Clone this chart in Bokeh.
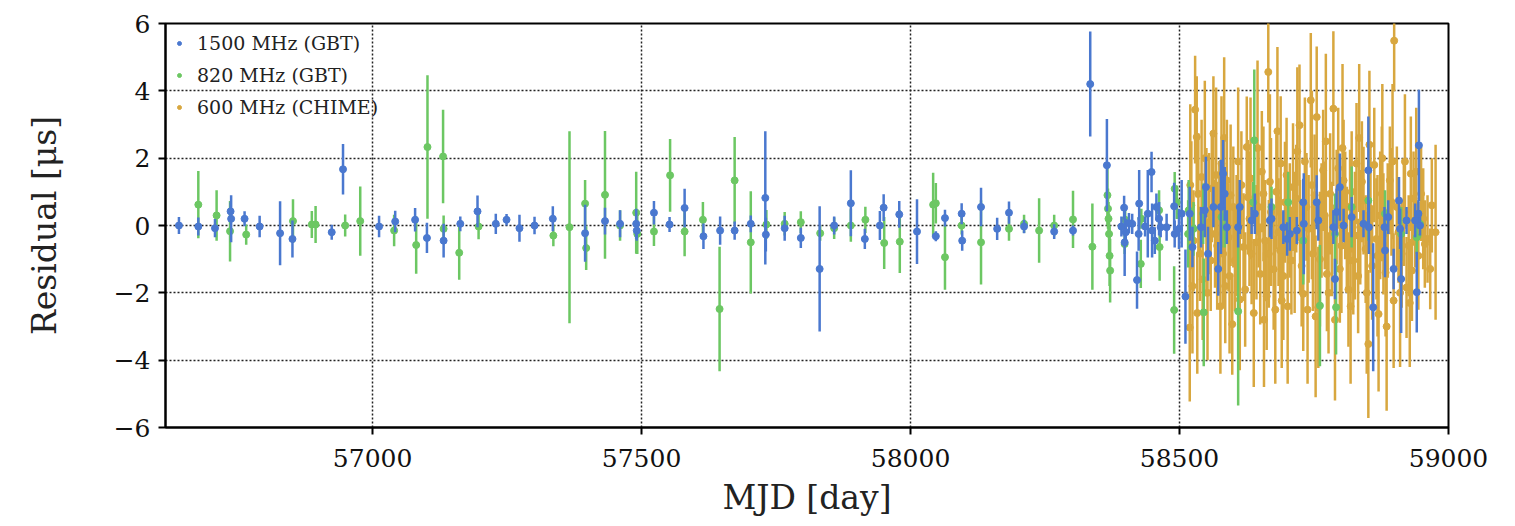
from bokeh.plotting import figure
from bokeh.models import (Range1d, FixedTicker, Legend, LegendItem, ColumnDataSource)
from bokeh.embed import file_html
from bokeh.resources import INLINE

# ---- data: (MJD, residual [us], uncertainty [us]) ----
gbt1500_mjd = [56640, 56676, 56707, 56736, 56737, 56762, 56790, 56828, 56851, 56924, 56945,
               57012, 57042, 57079, 57101, 57132, 57163, 57195, 57229, 57249, 57273, 57301, 57335,
               57395, 57432, 57460, 57490, 57491, 57523, 57552, 57580, 57615, 57646, 57673, 57703,
               57730, 57731, 57766, 57796, 57831, 57858, 57889, 57915, 57943, 57950, 57979, 58012,
               58047, 58064, 58095, 58096, 58131, 58161, 58183, 58211, 58267, 58302, 58334, 58365,
               58392, 58397, 58398, 58400, 58406, 58412, 58421, 58424, 58425, 58436, 58441, 58448,
               58449, 58454, 58457, 58462, 58465, 58476, 58490, 58491, 58499, 58504, 58511, 58519,
               58524, 58540, 58547, 58549, 58553, 58563, 58572, 58577, 58581, 58584, 58588, 58609,
               58612, 58634, 58640, 58668, 58671, 58693, 58700, 58705, 58718, 58730, 58731, 58755,
               58758, 58786, 58789, 58792, 58798, 58805, 58820, 58842, 58851, 58852, 58860, 58881,
               58882, 58888, 58898, 58908, 58910, 58912, 58922, 58938, 58941, 58944, 58945, 58947]
gbt1500_res = [0.0, -0.03, -0.08, 0.42, 0.20, 0.20, -0.03, -0.23, -0.40, -0.20, 1.67,
               -0.03, 0.12, 0.17, -0.37, -0.45, 0.05, 0.42, 0.05, 0.17, -0.08, 0.00, 0.20,
               -0.23, 0.13, 0.05, 0.05, -0.15, 0.38, 0.03, 0.52, -0.32, -0.15, -0.15, 0.05,
               0.82, -0.27, -0.08, -0.37, -1.29, 0.00, 0.66, -0.40, 0.00, 0.53, 0.33, -0.18,
               -0.32, 0.22, 0.35, -0.45, 0.55, -0.10, 0.38, -0.03, -0.18, -0.15, 4.20, 1.79,
               -0.03, 0.53, -0.50, -0.20, 0.07, 0.05, -1.62, -0.25, 0.65, -0.03, 0.35, 1.59,
               -0.15, -0.45, 0.55, 0.20, -0.05, -0.05, 0.57, -0.25, -0.10, 0.35, -2.11, 0.35,
               -0.64, -0.05, 0.45, 1.14, -0.84, 0.55, -1.29, 0.55, 1.54, 0.94, -0.05, -0.05,
               0.55, 0.15, 0.35, 0.15, 0.20, -0.05, -0.40, -0.25, -0.15, 0.69, 0.05, 0.69,
               0.15, -0.05, -1.59, 0.40, 1.14, 0.00, 0.25, 0.05, 1.64, -0.05, -2.43, -0.05,
               -0.74, 0.25, -1.29, 0.74, -0.10, -1.59, 0.15, 0.15, -1.98, 0.35, 2.38, 0.00]
gbt1500_err = [0.25, 0.27, 0.27, 0.27, 0.70, 0.22, 0.32, 0.95, 0.55, 0.22, 0.75,
               0.32, 0.32, 0.35, 0.45, 0.50, 0.22, 0.47, 0.30, 0.17, 0.40, 0.26, 0.37,
               0.85, 0.40, 0.40, 0.45, 0.30, 0.35, 0.22, 0.57, 0.38, 0.42, 0.27, 0.25,
               1.98, 0.50, 0.37, 0.30, 1.86, 0.27, 0.98, 0.30, 0.43, 0.40, 0.40, 0.96,
               0.15, 0.25, 0.31, 0.30, 0.57, 0.33, 0.33, 0.20, 0.22, 0.15, 1.56, 1.37,
               0.30, 0.35, 1.00, 0.40, 0.30, 0.30, 0.85, 0.50, 1.00, 0.30, 1.30, 0.60,
               0.80, 0.40, 0.40, 0.50, 0.30, 0.40, 0.70, 0.40, 0.60, 1.00, 1.40, 0.80,
               0.60, 0.60, 0.80, 0.90, 0.80, 0.60, 0.80, 1.40, 1.00, 0.80, 0.50, 0.60,
               0.80, 0.40, 0.60, 0.50, 0.60, 0.50, 0.50, 0.50, 0.40, 0.70, 1.50, 0.80,
               0.60, 0.50, 0.60, 0.70, 1.00, 0.50, 0.60, 0.40, 1.60, 0.80, 1.90, 0.60,
               0.80, 0.50, 0.60, 0.70, 0.60, 1.60, 0.40, 0.50, 1.20, 0.40, 1.65, 0.30]

gbt820_mjd = [56676, 56710, 56735, 56765, 56852, 56887, 56894, 56949, 56977, 57040, 57081,
              57102, 57131, 57132, 57161, 57197, 57336, 57366, 57395, 57397, 57432, 57460,
              57490, 57492, 57523, 57553, 57580, 57614, 57645, 57673, 57703, 57732, 57766,
              57796, 57832, 57858, 57889, 57916, 57951, 57980, 58042, 58047, 58064, 58095,
              58131, 58183, 58211, 58239, 58267, 58302, 58338, 58366, 58367, 58368, 58369,
              58370, 58371, 58398, 58399, 58428, 58429, 58462, 58463, 58490, 58491, 58495,
              58516, 58517, 58526, 58544, 58545, 58578, 58584, 58609, 58637, 58639, 58671,
              58702, 58730, 58761, 58789, 58791, 58820, 58851, 58882, 58912, 58941, 58947]
gbt820_res = [0.62, 0.30, -0.17, -0.27, 0.13, 0.03, 0.03, 0.00, 0.13, -0.15, -0.58,
              2.33, 2.05, -0.10, -0.81, -0.03, -0.30, -0.05, 0.65, -0.67, 0.91, 0.00,
              0.38, -0.25, -0.18, 1.49, -0.18, 0.17, -2.48, 1.34, -0.50, 0.03, 0.05,
              0.10, -0.23, -0.08, 0.00, 0.17, -0.52, -0.48, 0.62, 0.66, -0.94, 0.00,
              -0.50, -0.10, 0.05, -0.15, 0.00, 0.18, -0.63, 0.90, 0.50, 0.20, -0.25,
              -0.90, -1.34, -0.55, 0.17, -1.14, 0.20, 0.45, -0.64, -2.51, 1.09, 0.69,
              -0.25, 0.45, -0.10, 0.35, -2.58, 0.25, -0.05, -2.55, 0.69, 2.53, 0.55,
              0.69, -0.45, -2.38, -0.25, -2.43, 0.55, 0.74, 0.35, -0.25, -0.35, 0.05]
gbt820_err = [1.00, 0.75, 0.90, 0.30, 0.65, 0.40, 0.55, 0.33, 1.03, 0.47, 0.85,
              2.13, 1.39, 0.40, 0.80, 0.38, 0.32, 2.85, 0.70, 0.65, 1.90, 0.45,
              1.22, 0.60, 0.43, 1.08, 0.73, 0.53, 1.85, 1.29, 1.52, 0.43, 0.35,
              0.32, 0.22, 0.32, 0.48, 0.39, 0.77, 0.93, 0.95, 0.60, 0.97, 0.27,
              1.25, 0.35, 0.27, 0.96, 0.32, 0.85, 1.28, 0.90, 0.60, 0.50, 0.60,
              0.90, 0.95, 0.30, 0.30, 0.72, 0.30, 0.60, 1.00, 1.30, 0.50, 0.50,
              1.00, 0.90, 0.80, 0.90, 1.60, 0.90, 0.60, 2.80, 0.60, 2.10, 0.60,
              0.90, 1.30, 1.80, 1.20, 1.40, 1.20, 1.20, 0.70, 0.80, 0.50, 0.40]

chime_mjd = [58519, 58522, 58526, 58529, 58532, 58535, 58538, 58541, 58543, 58550, 58555,
             58558, 58560, 58563, 58566, 58570, 58574, 58578, 58581, 58585, 58588, 58591,
             58595, 58598, 58600, 58603, 58606, 58615, 58619, 58622, 58625, 58627, 58630,
             58634, 58643, 58647, 58650, 58653, 58656, 58659, 58662, 58665, 58666, 58670,
             58675, 58680, 58684, 58687, 58688, 58690, 58693, 58696, 58699, 58705, 58708,
             58711, 58714, 58717, 58723, 58724, 58727, 58730, 58733, 58736, 58740, 58744,
             58748, 58751, 58755, 58758, 58761, 58764, 58767, 58770, 58774, 58777, 58780,
             58783, 58786, 58792, 58795, 58798, 58801, 58805, 58808, 58811, 58814, 58817,
             58820, 58823, 58826, 58829, 58832, 58836, 58839, 58842, 58846, 58851, 58855,
             58858, 58862, 58866, 58870, 58873, 58876, 58879, 58883, 58887, 58891, 58894,
             58898, 58899, 58904, 58907, 58913, 58917, 58922, 58926, 58930, 58932, 58935,
             58938, 58944, 58949, 58953, 58956, 58961, 58966, 58969, 58976,
             58520, 58524, 58533, 58547, 58552, 58568, 58576, 58583, 58593, 58609,
             58612, 58632, 58638, 58645, 58657, 58668, 58678, 58682, 58701, 58719,
             58738, 58746, 58753, 58772, 58789, 58803, 58818, 58834, 58848, 58853,
             58868, 58877, 58885, 58896, 58910, 58919, 58928, 58940]
chime_res = [-3.03, 0.60, -0.45, 3.44, 2.63, 0.94, -0.84, 1.44, -1.60, 0.10, 0.35,
             -1.04, 1.10, 2.73, -0.25, -0.60, 0.40, 1.84, -0.84, -1.80, 1.34, -0.35,
             0.90, -2.93, 0.55, -1.04, -0.30, 1.20, -0.64, -1.90, 2.33, 0.84, 0.20,
             -0.84, -0.50, 0.55, -1.44, 1.60, 0.94, -0.45, -2.10, 4.56, -0.84, 0.40,
             -1.30, 1.00, -0.20, -0.74, 1.84, -2.23, -1.50, 0.69, 1.50, 0.15, -1.04,
             1.14, -0.50, 0.80, 2.98, -0.35, -1.20, -2.03, 1.90, 0.55, -0.10, 3.72,
             -0.84, 0.90, 3.22, -2.43, -1.00, 0.15, 1.64, 0.30, -1.44, -2.00, 0.94,
             -0.40, 3.47, 0.55, 1.70, -1.29, -0.60, 1.34, 0.60, -0.35, -1.90, 0.55,
             1.00, -1.04, -0.30, 1.84, -1.50, -0.05, 1.30, 0.74, -0.70, -3.52, 0.50,
             -1.20, 1.80, -0.40, -2.63, 0.30, 0.94, -0.25, -1.40, 0.15, 1.34, 0.70,
             -2.23, 5.49, 0.55, -0.20, -0.84, 0.40, -1.84, -0.60, 1.54, -1.34, 0.80,
             0.15, -0.90, 0.94, 0.20, -0.55, -0.40, -1.29, 0.60, -0.20,
             1.20, -1.80, -2.60, 2.00, -2.00, 1.50, -2.40, 2.60, -1.50, 1.90,
             -2.20, 1.40, -2.60, 2.30, -2.80, 1.30, -2.50, 2.80, -2.40, 2.20,
             -2.50, 1.20, -2.70, 2.50, -2.80, 2.30, -2.40, 2.60, -2.00, 2.40,
             -0.90, 2.00, -3.00, 1.90, -2.00, 1.90, -2.30, 1.60]
chime_err = [2.2, 1.9, 1.5, 1.6, 1.8, 1.8, 1.4, 1.7, 1.8, 2.2, 1.8,
             1.5, 1.6, 1.7, 1.6, 1.9, 1.5, 2.0, 1.6, 1.7, 1.8, 1.6,
             2.1, 1.5, 1.8, 1.5, 1.8, 1.6, 1.6, 1.7, 1.5, 1.7, 2.0,
             1.5, 1.7, 1.8, 1.5, 1.8, 2.0, 1.8, 1.6, 1.5, 1.6, 2.2,
             1.8, 1.7, 1.6, 1.6, 2.0, 2.0, 1.9, 1.8, 1.7, 1.7, 1.6,
             1.9, 2.1, 1.6, 1.8, 1.7, 1.8, 1.7, 1.9, 1.6, 1.6, 2.0,
             1.7, 1.8, 2.1, 1.8, 2.0, 1.7, 1.8, 1.6, 1.7, 1.8, 1.8,
             1.7, 2.3, 1.7, 1.8, 1.6, 2.0, 1.8, 1.6, 1.5, 1.7, 1.7,
             1.8, 1.6, 1.9, 1.8, 1.7, 1.7, 1.8, 1.6, 1.6, 2.2, 1.9,
             1.6, 1.7, 1.8, 2.3, 1.9, 2.0, 1.8, 1.9, 1.7, 1.6, 1.6,
             2.0, 1.5, 1.8, 1.5, 1.6, 1.6, 1.5, 1.5, 1.7, 1.5, 1.4,
             1.4, 1.6, 1.4, 1.5, 1.3, 1.3, 1.2, 1.4, 2.6,
             2.4, 2.0, 1.8, 2.3, 2.0, 2.6, 2.0, 2.4, 2.3, 2.2,
             2.1, 2.4, 2.2, 2.6, 2.0, 2.6, 2.2, 2.5, 2.3, 2.5,
             2.2, 2.8, 2.4, 2.6, 2.4, 2.5, 2.3, 2.2, 2.4, 2.2,
             2.4, 2.2, 2.5, 2.3, 2.2, 2.0, 1.9, 1.9]

series_labels = ["1500 MHz (GBT)", "820 MHz (GBT)", "600 MHz (CHIME)"]
x_ticks = [57000, 57500, 58000, 58500, 59000]
y_ticks = [-6, -4, -2, 0, 2, 4, 6]

BLUE = "#4a78cf"
GREEN = "#6cc763"
GOLD = "#d8a73f"
FONT = "DejaVu Serif"

p = figure(width=1515, height=526, x_range=Range1d(56615, 59000), y_range=Range1d(-6, 6),
           output_backend="svg", toolbar_location=None,
           min_border_left=165, min_border_right=67, min_border_top=23, min_border_bottom=99)
p.background_fill_color = "white"
p.border_fill_color = "white"
p.outline_line_color = "black"
p.outline_line_width = 2


def make_source(mjd, res, err):
    return ColumnDataSource(dict(x=mjd, y=res,
                                 lo=[r - e for r, e in zip(res, err)],
                                 hi=[r + e for r, e in zip(res, err)]))


src_blue = make_source(gbt1500_mjd, gbt1500_res, gbt1500_err)
src_green = make_source(gbt820_mjd, gbt820_res, gbt820_err)
src_gold = make_source(chime_mjd, chime_res, chime_err)

# gold underneath, then green, then blue (bars and dots of the GBT data stay visible)
p.segment(x0="x", y0="lo", x1="x", y1="hi", source=src_gold, line_color=GOLD, line_width=2.5)
r_gold = p.scatter("x", "y", source=src_gold, size=7, color=GOLD)
p.segment(x0="x", y0="lo", x1="x", y1="hi", source=src_green, line_color=GREEN, line_width=2.5)
r_green = p.scatter("x", "y", source=src_green, size=7, color=GREEN)
p.segment(x0="x", y0="lo", x1="x", y1="hi", source=src_blue, line_color=BLUE, line_width=2.5)
r_blue = p.scatter("x", "y", source=src_blue, size=7, color=BLUE)

# axes
for ax in (p.xaxis[0], p.yaxis[0]):
    ax.axis_line_width = 2
    ax.axis_line_color = "black"
    ax.major_tick_line_width = 2
    ax.major_tick_line_color = "black"
    ax.major_tick_out = 7
    ax.major_tick_in = 0
    ax.minor_tick_out = 0
    ax.minor_tick_in = 0
    ax.major_label_text_font = FONT
    ax.major_label_text_font_size = "25px"
    ax.major_label_text_color = "#111111"
    ax.axis_label_text_font = FONT
    ax.axis_label_text_font_size = "33px"
    ax.axis_label_text_font_style = "normal"
    ax.axis_label_text_color = "#222222"

p.xaxis.ticker = FixedTicker(ticks=x_ticks)
p.yaxis.ticker = FixedTicker(ticks=y_ticks)
p.yaxis.major_label_overrides = {t: (str(t).replace("-", "\u2212")) for t in y_ticks}
p.xaxis.axis_label = "MJD [day]"
p.yaxis.axis_label = "Residual [\u03bcs]"
p.xaxis.major_label_standoff = 14
p.xaxis.axis_label_standoff = 8
p.yaxis.major_label_standoff = 8
p.yaxis.axis_label_standoff = 47

# grid
p.xgrid.ticker = FixedTicker(ticks=[57000, 57500, 58000, 58500])
p.ygrid.ticker = FixedTicker(ticks=[-4, -2, 0, 2, 4])
for g in (p.xgrid[0], p.ygrid[0]):
    g.grid_line_color = "#222222"
    g.grid_line_dash = "2 2"
    g.grid_line_width = 1.5

legend = Legend(items=[LegendItem(label=series_labels[0], renderers=[r_blue]),
                       LegendItem(label=series_labels[1], renderers=[r_green]),
                       LegendItem(label=series_labels[2], renderers=[r_gold])],
                location="top_left", margin=0, padding=9, spacing=10,
                glyph_width=10, glyph_height=20, label_height=20, label_standoff=13,
                label_text_font=FONT, label_text_font_size="19px", label_text_color="#222222",
                border_line_alpha=0, background_fill_alpha=0)
p.add_layout(legend)

open("out.html", "w").write(file_html(p, INLINE))
